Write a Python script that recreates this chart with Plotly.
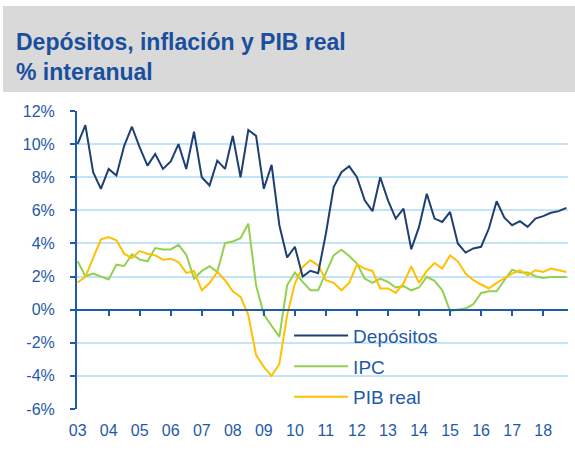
import plotly.graph_objects as go

# Quarterly data, 2003Q1 .. 2018Q4
years = list(range(2003, 2019))
quarters = [y + q / 4 for y in years for q in range(4)]

depositos = [10.0, 11.15, 8.3, 7.3, 8.5, 8.1, 9.9, 11.05, 9.8, 8.7, 9.4, 8.5, 8.95, 10.0, 8.5, 10.75,
             8.0, 7.5, 9.0, 8.5, 10.5, 8.0, 10.85, 10.5, 7.3, 8.75, 5.1, 3.15, 3.8, 2.0, 2.35, 2.2,
             4.6, 7.4, 8.3, 8.66, 8.0, 6.6, 5.95, 8.0, 6.6, 5.5, 6.1, 3.65, 5.0, 7.0, 5.5, 5.3,
             5.9, 4.0, 3.45, 3.7, 3.8, 4.9, 6.55, 5.55, 5.1, 5.35, 5.0, 5.5, 5.65, 5.85, 5.95, 6.15]
ipc = [2.92, 2.02, 2.18, 2.02, 1.82, 2.72, 2.64, 3.34, 3.02, 2.92, 3.72, 3.64, 3.64, 3.92, 3.32, 1.88,
       2.34, 2.62, 2.28, 4.02, 4.12, 4.32, 5.19, 1.47, -0.29, -0.97, -1.64, 1.47, 2.24, 1.68, 1.17, 1.17,
       2.18, 3.28, 3.62, 3.24, 2.78, 1.88, 1.62, 1.88, 1.68, 1.34, 1.42, 1.17, 1.34, 1.98, 1.74, 1.17,
       -0.07, 0.01, 0.07, 0.33, 1.01, 1.11, 1.11, 1.78, 2.42, 2.24, 2.24, 2.02, 1.92, 1.98, 1.98, 1.98]
pib_real = [1.64, 1.98, 3.12, 4.25, 4.39, 4.19, 3.38, 3.12, 3.54, 3.38, 3.28, 3.02, 3.08, 2.88, 2.22, 2.34,
            1.17, 1.61, 2.28, 1.78, 1.11, 0.77, -0.33, -2.74, -3.45, -4.0, -3.28, -0.33, 1.58, 2.58, 2.98, 2.68,
            1.78, 1.62, 1.17, 1.62, 2.74, 2.48, 2.34, 1.28, 1.28, 1.01, 1.58, 2.62, 1.62, 2.34, 2.82, 2.48,
            3.28, 2.92, 2.18, 1.78, 1.52, 1.28, 1.62, 1.88, 2.18, 2.38, 2.08, 2.38, 2.28, 2.48, 2.38, 2.28]

year_labels = ["%02d" % (y % 100) for y in years]
y_ticks = [-6, -4, -2, 0, 2, 4, 6, 8, 10, 12]
y_labels = ["%d%%" % v for v in y_ticks]

BLUE = "#1f5aa8"
GRID = "#c3e4f6"
FONT = "Liberation Sans, Arial, sans-serif"

fig = go.Figure()
fig.add_trace(go.Scatter(x=quarters, y=depositos, name="Depósitos", mode="lines",
                         line=dict(color="#1f3f73", width=2), xaxis="x2", legendgroup="a"))
fig.add_trace(go.Scatter(x=quarters, y=ipc, name="IPC", mode="lines",
                         line=dict(color="#92d050", width=2), legendgroup="b"))
fig.add_trace(go.Scatter(x=quarters, y=pib_real, name="PIB real", mode="lines",
                         line=dict(color="#ffc000", width=2), legendgroup="c"))

xr = [2002.98, 2018.8]
fig.update_layout(
    width=575, height=456,
    margin=dict(l=77, r=7, t=111, b=47, autoexpand=False),
    paper_bgcolor="white", plot_bgcolor="white",
    font=dict(family=FONT, color=BLUE),
    title=dict(text="<b>Depósitos, inflación y PIB real<br>% interanual</b>",
               font=dict(family=FONT, size=23, color="#1a4f9f"),
               x=16 / 575, xanchor="left", xref="container",
               y=1 - 50 / 456, yanchor="top", yref="container"),
    xaxis=dict(range=xr, tickvals=years, ticktext=year_labels, showgrid=False,
               showline=False, ticks="", zeroline=False, automargin=False,
               tickfont=dict(size=16, color=BLUE), ticklabelstandoff=10),
    xaxis2=dict(range=xr, overlaying="x", anchor="free", position=1 / 3, side="bottom",
                tickvals=years[1:], showticklabels=False, ticks="outside", ticklen=5,
                tickwidth=2, tickcolor=BLUE, showline=True, linecolor=BLUE, linewidth=2,
                showgrid=False, zeroline=False, automargin=False),
    yaxis=dict(range=[-6, 12], tickvals=y_ticks, ticktext=y_labels, showgrid=True,
               gridcolor=GRID, gridwidth=1.5, zeroline=False, showline=True,
               linecolor=BLUE, linewidth=2, ticks="outside", ticklen=5, tickwidth=2,
               tickcolor=BLUE, tickfont=dict(size=16, color=BLUE), ticklabelstandoff=12,
               automargin=False),
    legend=dict(x=0.432, y=0.31, xanchor="left", yanchor="top", bgcolor="rgba(0,0,0,0)",
                font=dict(size=19, color=BLUE), tracegroupgap=3, itemwidth=54),
    showlegend=True,
    shapes=[dict(type="rect", xref="paper", yref="paper", x0=-0.1507, x1=1.0143,
                 y0=1.0638, y1=1.3523, fillcolor="#d9d9d9", line=dict(width=0), layer="below")],
)

fig.write_html("out.html", config={"displayModeBar": False},
               post_script="document.body.style.margin='0';")
